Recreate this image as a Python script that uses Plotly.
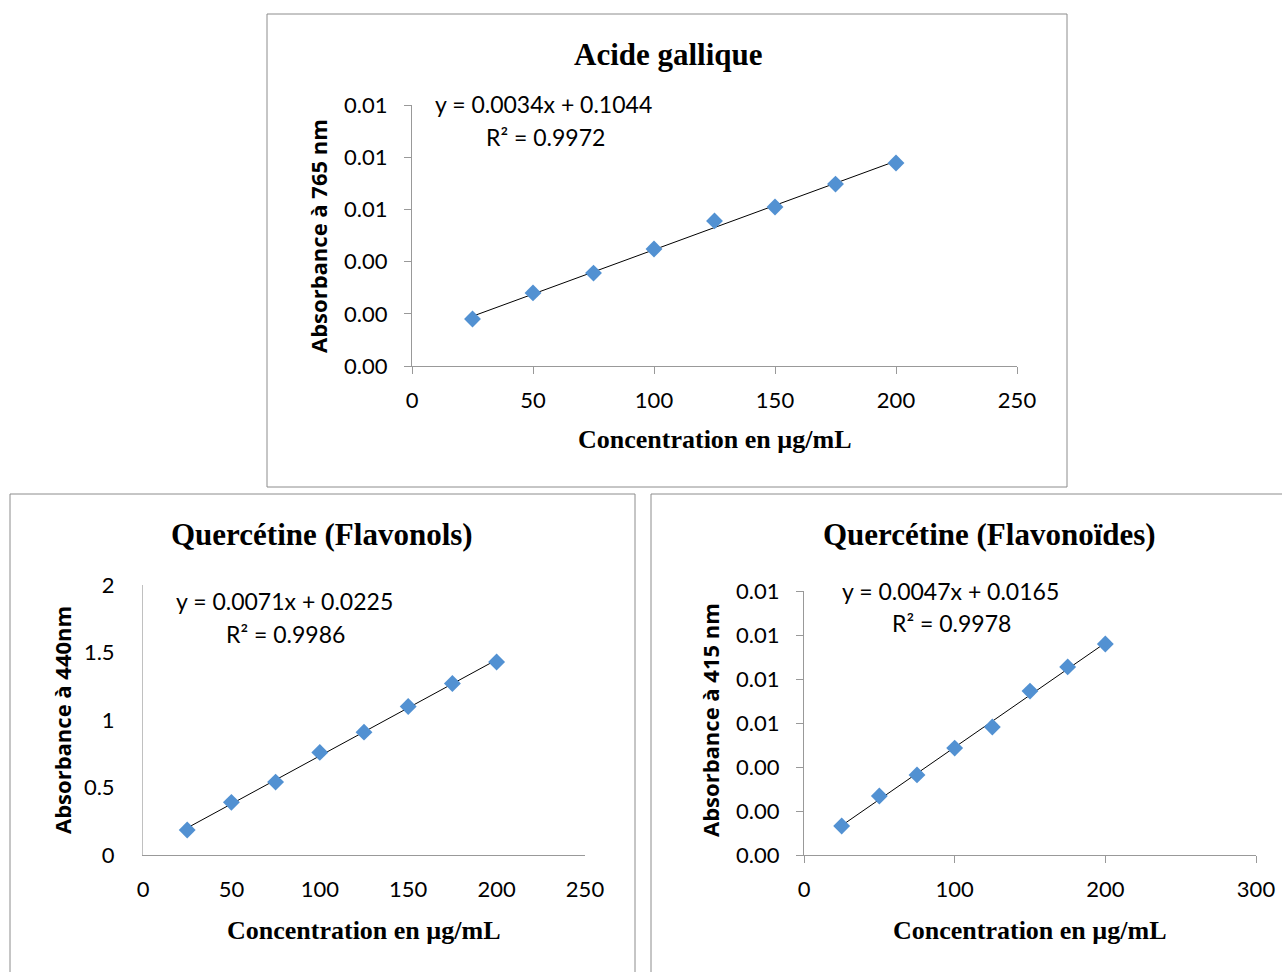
import numpy as np
import plotly.graph_objects as go

# ---------------- data ----------------
conc = [25, 50, 75, 100, 125, 150, 175, 200]

gallic_abs = [0.0018, 0.0028, 0.00356, 0.00448, 0.00556, 0.00609, 0.00697, 0.00778]
flavonols_abs = [0.185, 0.39, 0.54, 0.76, 0.91, 1.10, 1.27, 1.43]
flavonoids_abs = [0.00132, 0.00268, 0.00364, 0.00486, 0.00582, 0.00745, 0.00855, 0.00959]

titles = ["Acide gallique", "Quercétine (Flavonols)", "Quercétine (Flavonoïdes)"]
y_titles = ["Absorbance à 765 nm", "Absorbance à 440nm", "Absorbance à 415 nm"]
x_title = "Concentration en µg/mL"
equations = ["y = 0.0034x + 0.1044", "y = 0.0071x + 0.0225", "y = 0.0047x + 0.0165"]
r2_texts = ["R² = 0.9972", "R² = 0.9986", "R² = 0.9978"]

# ---------------- layout helpers ----------------
W, H = 1282, 972


def px(x):
    return x / W


def py(y):
    return 1 - y / H


MARKER_COLOR = "#5291D2"
AXIS_COLOR = "#999999"
TICK_FONT = dict(family="Lato, Open Sans, sans-serif", size=22, color="#000000")
EQ_FONT = dict(family="Lato, Open Sans, sans-serif", size=23, color="#000000")
TITLE_FONT = dict(family="Liberation Serif, Times New Roman, serif", size=31, color="#000000")
XT_FONT = dict(family="Liberation Serif, Times New Roman, serif", size=26, color="#000000")
YT_FONT = dict(family="Open Sans, Lato, sans-serif", size=22, color="#000000")

fig = go.Figure()

series = [gallic_abs, flavonols_abs, flavonoids_abs]
axes_ids = [("x", "y"), ("x2", "y2"), ("x3", "y3")]
for (xa, ya), vals in zip(axes_ids, series):
    slope, icpt = np.polyfit(conc, vals, 1)
    xs = [conc[0], conc[-1]]
    fig.add_trace(go.Scatter(x=xs, y=[slope * v + icpt for v in xs], mode="lines",
                             line=dict(color="black", width=1), xaxis=xa, yaxis=ya,
                             showlegend=False, hoverinfo="skip"))
    fig.add_trace(go.Scatter(x=conc, y=vals, mode="markers",
                             marker=dict(symbol="diamond", size=13, color=MARKER_COLOR),
                             xaxis=xa, yaxis=ya, showlegend=False))

# plot-area geometry (pixels)
areas = [
    dict(x0=412, x1=1017, y0=105, y1=366),
    dict(x0=143, x1=585, y0=585, y1=855),
    dict(x0=804, x1=1256, y0=591, y1=855),
]
x_ranges = [[0, 250], [0, 250], [0, 300]]
x_dticks = [50, 50, 100]
y_ranges = [[0, 0.010], [0, 2], [0, 0.012]]
y_dticks = [0.002, 0.5, 0.002]
y_formats = [".2f", "", ".2f"]
show_ticks = [True, False, True]
y_line_colors = [AXIS_COLOR, "#C0C0C0", AXIS_COLOR]

layout_axes = {}
for i, a in enumerate(areas):
    sfx = "" if i == 0 else str(i + 1)
    anchor_x = "y" + sfx
    anchor_y = "x" + sfx
    tk = "outside" if show_ticks[i] else ""
    layout_axes["xaxis" + sfx] = dict(
        domain=[px(a["x0"]), px(a["x1"])], range=x_ranges[i], dtick=x_dticks[i], tick0=0,
        anchor=anchor_x, showgrid=False, zeroline=False, showline=True, automargin=False,
        linecolor=AXIS_COLOR, linewidth=1, ticks=tk, ticklen=7, tickcolor=AXIS_COLOR,
        tickfont=TICK_FONT, ticklabelstandoff=8 if show_ticks[i] else 15,
    )
    layout_axes["yaxis" + sfx] = dict(
        domain=[py(a["y1"]), py(a["y0"])], range=y_ranges[i], dtick=y_dticks[i], tick0=0,
        tickformat=y_formats[i], anchor=anchor_y, showgrid=False, zeroline=False,
        showline=True, automargin=False, linecolor=y_line_colors[i], linewidth=1, ticks=tk,
        ticklen=7, tickcolor=AXIS_COLOR, tickfont=TICK_FONT,
        ticklabelstandoff=12 if show_ticks[i] else 23,
    )

fig.update_layout(**layout_axes)

# text annotations
title_pos = [(668, 55), (322, 534), (990, 534)]
xt_pos = [(715, 440), (364, 930), (1030, 930)]
yt_pos = [(318, 236), (62, 720), (710, 720)]
eq_pos = [(433, 104), (174, 601), (840, 591)]
r2_pos = [(484, 137), (224, 634), (890, 623)]

annotations = []
for i in range(3):
    annotations.append(dict(text="<b>" + titles[i] + "</b>", x=px(title_pos[i][0]), y=py(title_pos[i][1]),
                            xref="paper", yref="paper", showarrow=False, font=TITLE_FONT,
                            xanchor="center", yanchor="middle"))
    annotations.append(dict(text="<b>" + x_title + "</b>", x=px(xt_pos[i][0]), y=py(xt_pos[i][1]),
                            xref="paper", yref="paper", showarrow=False, font=XT_FONT,
                            xanchor="center", yanchor="middle"))
    annotations.append(dict(text="<b>" + y_titles[i] + "</b>", x=px(yt_pos[i][0]), y=py(yt_pos[i][1]),
                            xref="paper", yref="paper", showarrow=False, font=YT_FONT,
                            textangle=-90, xanchor="center", yanchor="middle"))
    annotations.append(dict(text=equations[i], x=px(eq_pos[i][0]), y=py(eq_pos[i][1]),
                            xref="paper", yref="paper", showarrow=False, font=EQ_FONT,
                            xanchor="left", yanchor="middle"))
    annotations.append(dict(text=r2_texts[i], x=px(r2_pos[i][0]), y=py(r2_pos[i][1]),
                            xref="paper", yref="paper", showarrow=False, font=EQ_FONT,
                            xanchor="left", yanchor="middle"))

# chart frames
boxes = [(267, 14, 1067, 487), (10, 494, 635, 990), (651, 494, 1300, 990)]
shapes = []
for (x0, y0, x1, y1) in boxes:
    shapes.append(dict(type="rect", xref="paper", yref="paper",
                       x0=px(x0), x1=px(x1), y0=py(y1), y1=py(y0),
                       line=dict(color="#8C8C8C", width=1), fillcolor="rgba(0,0,0,0)", layer="below"))

fig.update_layout(
    width=W, height=H, autosize=False,
    margin=dict(l=0, r=0, t=0, b=0, pad=0),
    paper_bgcolor="white", plot_bgcolor="white",
    annotations=annotations, shapes=shapes, showlegend=False,
)

fig.write_html(
    "out.html",
    config={"displayModeBar": False},
    post_script="document.body.style.margin='0';document.body.style.overflow='hidden';",
)
